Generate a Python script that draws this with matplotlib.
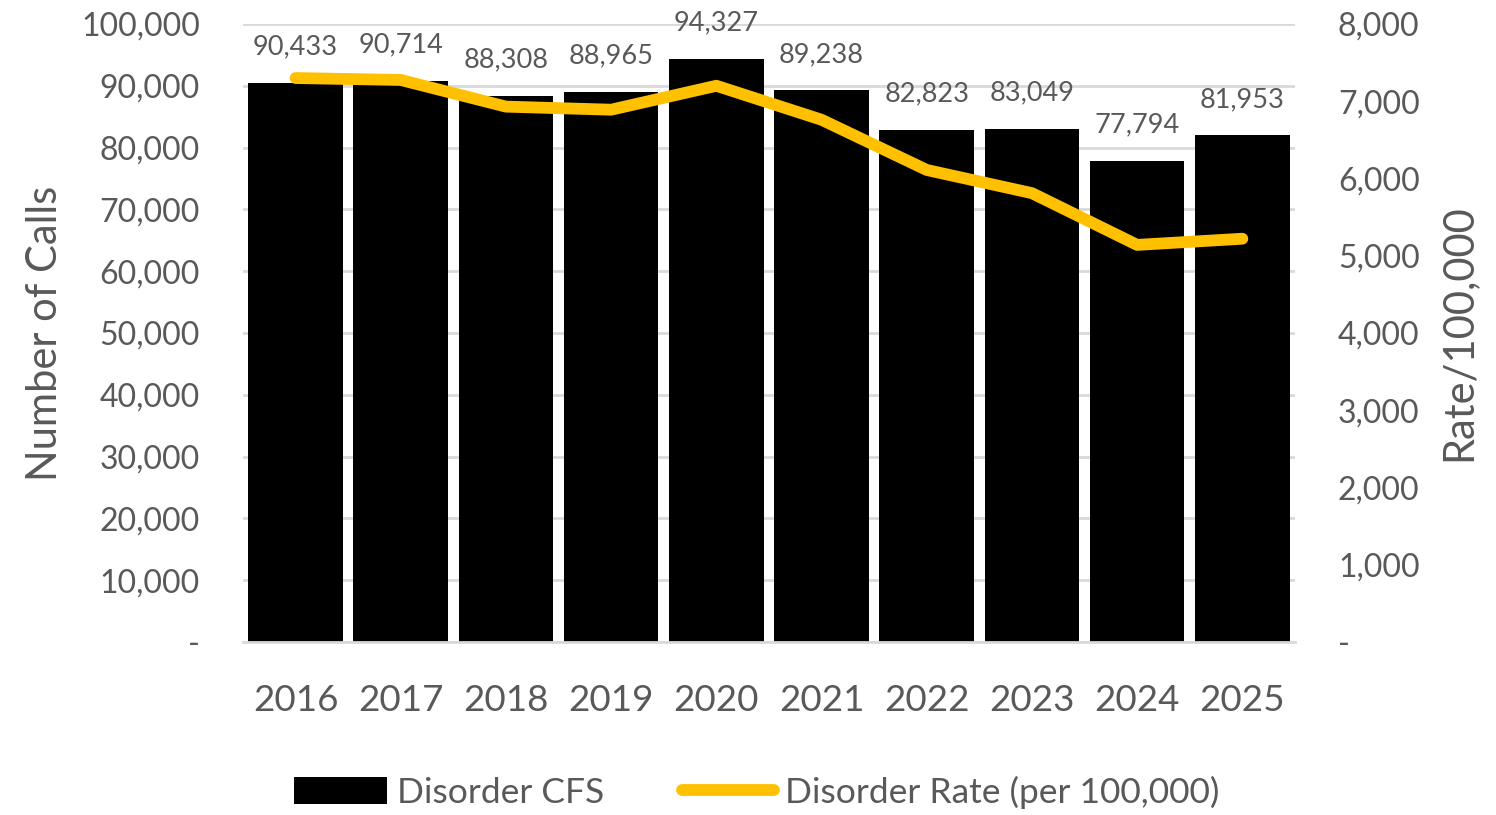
"""Disorder calls for service and rate per 100,000, 2016-2025."""

import matplotlib

matplotlib.use("Agg")
import matplotlib.pyplot as plt
from matplotlib.ticker import FuncFormatter, MultipleLocator

years = ["2016", "2017", "2018", "2019", "2020", "2021", "2022", "2023", "2024", "2025"]
disorder_cfs = [90433, 90714, 88308, 88965, 94327, 89238, 82823, 83049, 77794, 81953]
disorder_rate = [7300, 7275, 6930, 6890, 7200, 6760, 6110, 5810, 5140, 5220]

TEXT = "#595959"
GRID = "#D9D9D9"
GOLD = "#FFC000"

plt.rcParams["font.family"] = ["Lato", "DejaVu Sans"]


def dash_zero(value, _pos):
    return "-" if value == 0 else f"{value:,.0f}"


def main():
    fig = plt.figure(figsize=(14.96, 8.15), dpi=100)
    ax = fig.add_axes([0.1624, 0.2123, 0.7032, 0.7583])
    x = range(len(years))

    bars = ax.bar(x, disorder_cfs, width=0.9, color="black", zorder=2,
                  label="Disorder CFS")
    for rect, value in zip(bars, disorder_cfs):
        ax.annotate(f"{value:,}", (rect.get_x() + rect.get_width() / 2, rect.get_height()),
                    textcoords="offset points", xytext=(0, 17), ha="center",
                    va="bottom", fontsize=19.5, color=TEXT, zorder=3)

    ax.set_xlim(-0.5, len(years) - 0.5)
    ax.set_ylim(0, 100000)
    ax.yaxis.set_major_locator(MultipleLocator(10000))
    ax.yaxis.set_major_formatter(FuncFormatter(dash_zero))
    ax.set_xticks(list(x))
    ax.set_xticklabels(years)
    ax.grid(axis="y", color=GRID, linewidth=2, zorder=0)
    ax.set_axisbelow(True)
    for side in ("top", "left", "right"):
        ax.spines[side].set_visible(False)
    ax.spines["bottom"].set_color(GRID)
    ax.spines["bottom"].set_linewidth(2)
    ax.tick_params(axis="y", length=0, pad=31, labelsize=23, labelcolor=TEXT)
    ax.tick_params(axis="x", length=0, pad=30, labelsize=26.5, labelcolor=TEXT)
    ax.set_ylabel("Number of Calls", fontsize=30, color=TEXT, labelpad=12)

    ax2 = ax.twinx()
    ax2.plot(list(x), disorder_rate, color=GOLD, linewidth=8.5,
             solid_capstyle="round", solid_joinstyle="round",
             label="Disorder Rate (per 100,000)", zorder=4)
    ax2.set_ylim(0, 8000)
    ax2.yaxis.set_major_locator(MultipleLocator(1000))
    ax2.yaxis.set_major_formatter(FuncFormatter(dash_zero))
    for side in ("top", "left", "right", "bottom"):
        ax2.spines[side].set_visible(False)
    ax2.tick_params(axis="y", length=0, pad=31, labelsize=23, labelcolor=TEXT)
    ax2.set_ylabel("Rate/100,000", fontsize=30, color=TEXT, labelpad=14)

    handles = [bars, ax2.get_lines()[0]]
    fig.legend(handles, [h.get_label() for h in handles], loc="center",
               bbox_to_anchor=(0.506, 0.028), ncol=2, frameon=False,
               fontsize=25.5, labelcolor=TEXT, handlelength=2.6,
               handleheight=0.8, columnspacing=2.2, handletextpad=0.3)

    fig.savefig("out.png", dpi=100)
    plt.close(fig)


if __name__ == "__main__":
    main()
